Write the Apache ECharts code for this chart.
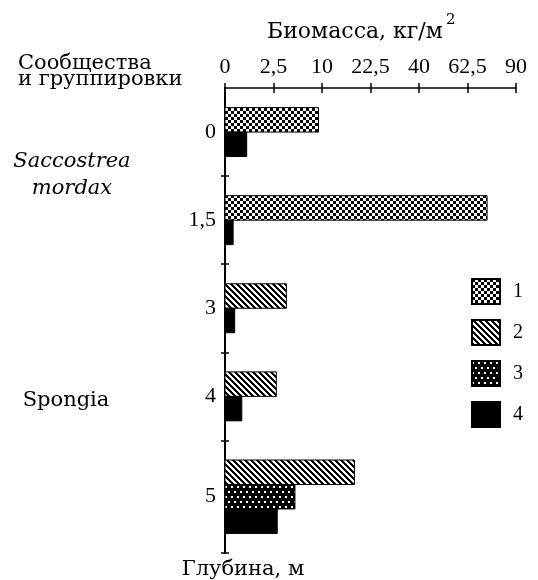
<!DOCTYPE html>
<html>
<head>
<meta charset="utf-8">
<script src="https://cdn.jsdelivr.net/npm/echarts@6/dist/echarts.min.js"></script>
<style>
html,body{margin:0;padding:0;background:#fff;}
#chart{width:538px;height:580px;}
</style>
</head>
<body>
<div id="chart"></div>
<script>
// ---- data ----
const depthLabels = ['0', '1,5', '3', '4', '5'];
const seriesNames = ['1', '2', '3', '4'];
const series1 = [9.3, 73, null, null, null];
const series2 = [null, null, 4.0, 2.8, 17.8];
const series3 = [null, null, null, null, 5.2];
const series4 = [0.5, 0.07, 0.1, 0.3, 2.9];
const xTicks = [0, 2.5, 10, 22.5, 40, 62.5, 90];

// ---- patterns ----
function makeCanvas(w, h, fn) {
  const c = document.createElement('canvas');
  c.width = w; c.height = h;
  const ctx = c.getContext('2d');
  const img = ctx.createImageData(w, h);
  for (let y = 0; y < h; y++) for (let x = 0; x < w; x++) {
    const black = fn(x, y);
    const i = (y * w + x) * 4;
    const v = black ? 0 : 255;
    img.data[i] = v; img.data[i + 1] = v; img.data[i + 2] = v; img.data[i + 3] = 255;
  }
  ctx.putImageData(img, 0, 0);
  return c;
}
const patChecker = { image: makeCanvas(6, 6, (x, y) => ((Math.floor(x / 3) + Math.floor(y / 3)) % 2) === 0), repeat: 'repeat' };
const patHatch = { image: makeCanvas(6, 6, (x, y) => ((x - y + 60) % 6) < 3), repeat: 'repeat' };
const patDots = { image: makeCanvas(6, 10, (x, y) => {
  const d1 = (x >= 0 && x <= 1 && y >= 1 && y <= 2);
  const d2 = (x >= 3 && x <= 4 && y >= 6 && y <= 7);
  return !(d1 || d2);
}), repeat: 'repeat' };
const fills = [patChecker, patHatch, patDots, '#000'];
const allSeries = [series1, series2, series3, series4];

// ---- layout in slot units (one slot = one bar) ----
const pad = 0.8;
const groupCenter = [], boundaries = [];
let acc = 0;
const slotOf = allSeries.map(() => []);
for (let g = 0; g < depthLabels.length; g++) {
  let k = 0;
  for (let s = 0; s < allSeries.length; s++) {
    if (allSeries[s][g] != null) { slotOf[s][g] = acc + pad + k; k++; }
  }
  const size = k + 2 * pad;
  groupCenter.push(acc + size / 2);
  acc += size;
  boundaries.push(acc);
}
const total = acc;

const fontNum = 'Liberation Serif';

const xTickPos = xTicks.map(Math.sqrt);
const xMax = Math.sqrt(xTicks[xTicks.length - 1]);

const customSeries = allSeries.map((arr, s) => ({
  type: 'custom',
  name: seriesNames[s],
  xAxisIndex: 0,
  yAxisIndex: 0,
  itemStyle: { color: fills[s], borderColor: '#000', borderWidth: 1 },
  encode: { x: 0, y: 1 },
  data: arr.map((v, g) => v == null ? null : [Math.sqrt(v), slotOf[s][g]]).filter(d => d),
  renderItem: function (params, api) {
    const xv = api.value(0), y0 = api.value(1);
    const a = api.coord([0, y0]);
    const b = api.coord([xv, y0 + 1]);
    return {
      type: 'rect',
      shape: { x: a[0], y: Math.min(a[1], b[1]), width: b[0] - a[0], height: Math.abs(b[1] - a[1]) },
      style: { fill: fills[s], stroke: '#000', lineWidth: 1 }
    };
  }
}));

const chart = echarts.init(document.getElementById('chart'), null, { renderer: 'canvas' });
chart.setOption({
  animation: false,
  backgroundColor: '#fff',
  grid: { left: 225, right: 22, top: 88, bottom: 27, containLabel: false },
  legend: {
    orient: 'vertical', left: 471, top: 278, padding: 0,
    itemWidth: 28, itemHeight: 25, itemGap: 14, icon: 'rect',
    data: seriesNames,
    textStyle: { fontFamily: fontNum, fontSize: 20, color: '#000', padding: [14, 0, 0, 8] },
    selectedMode: false
  },
  xAxis: [{
    type: 'value', position: 'top', min: 0, max: xMax,
    axisLine: { show: true, lineStyle: { color: '#000', width: 1.5 } },
    axisTick: { show: true, customValues: xTickPos, length: 5, lineStyle: { color: '#000', width: 1.5 } },
    axisLabel: {
      customValues: xTickPos, margin: 10, color: '#000', fontFamily: fontNum, fontSize: 22,
      formatter: v => {
        const t = xTicks.find(t => Math.abs(Math.sqrt(t) - v) < 1e-6);
        return String(t === undefined ? '' : t).replace('.', ',');
      }
    },
    splitLine: { show: false }
  }, {
    type: 'value', position: 'top', min: 0, max: xMax, gridIndex: 0,
    axisLine: { show: false },
    axisTick: { show: true, inside: true, customValues: xTickPos, length: 5, lineStyle: { color: '#000', width: 1.5 } },
    axisLabel: { show: false },
    splitLine: { show: false }
  }],
  yAxis: [{
    type: 'value', inverse: true, min: 0, max: total, position: 'left',
    axisLine: { show: true, lineStyle: { color: '#000', width: 2 } },
    axisTick: { show: true, customValues: boundaries, length: 4, lineStyle: { color: '#000', width: 1.5 } },
    axisLabel: {
      customValues: groupCenter, margin: 9, color: '#000', fontFamily: fontNum, fontSize: 22,
      formatter: v => {
        let bi = 0, bd = Infinity;
        groupCenter.forEach((c, i) => { const d = Math.abs(c - v); if (d < bd) { bd = d; bi = i; } });
        return depthLabels[bi];
      }
    },
    splitLine: { show: false }
  }, {
    type: 'value', inverse: true, min: 0, max: total, position: 'left', gridIndex: 0,
    axisLine: { show: false },
    axisTick: { show: true, inside: true, customValues: boundaries, length: 4, lineStyle: { color: '#000', width: 1.5 } },
    axisLabel: { show: false },
    splitLine: { show: false }
  }],
  graphic: [
    { type: 'text', left: 267, top: 21, style: { text: 'Биомасса, кг/м', font: '22px "DejaVu Serif"', fill: '#000' } },
    { type: 'text', left: 446, top: 13, style: { text: '2', font: '15px "DejaVu Serif"', fill: '#000' } },
    { type: 'text', left: 18, top: 53, style: { text: 'Сообщества', font: '21px "DejaVu Serif"', fill: '#000' } },
    { type: 'text', left: 18, top: 69, style: { text: 'и группировки', font: '21px "DejaVu Serif"', fill: '#000' } },
    { type: 'text', x: 72, y: 162, style: { text: 'Saccostrea', font: 'italic 21px "DejaVu Serif"', fill: '#000', align: 'center', verticalAlign: 'middle' } },
    { type: 'text', x: 72, y: 189, style: { text: 'mordax', font: 'italic 21px "DejaVu Serif"', fill: '#000', align: 'center', verticalAlign: 'middle' } },
    { type: 'text', x: 66, y: 401, style: { text: 'Spongia', font: '21px "DejaVu Serif"', fill: '#000', align: 'center', verticalAlign: 'middle' } },
    { type: 'text', x: 243, y: 570, style: { text: 'Глубина, м', font: '21px "DejaVu Serif"', fill: '#000', align: 'center', verticalAlign: 'middle' } }
  ],
  series: customSeries
});
</script>
</body>
</html>
